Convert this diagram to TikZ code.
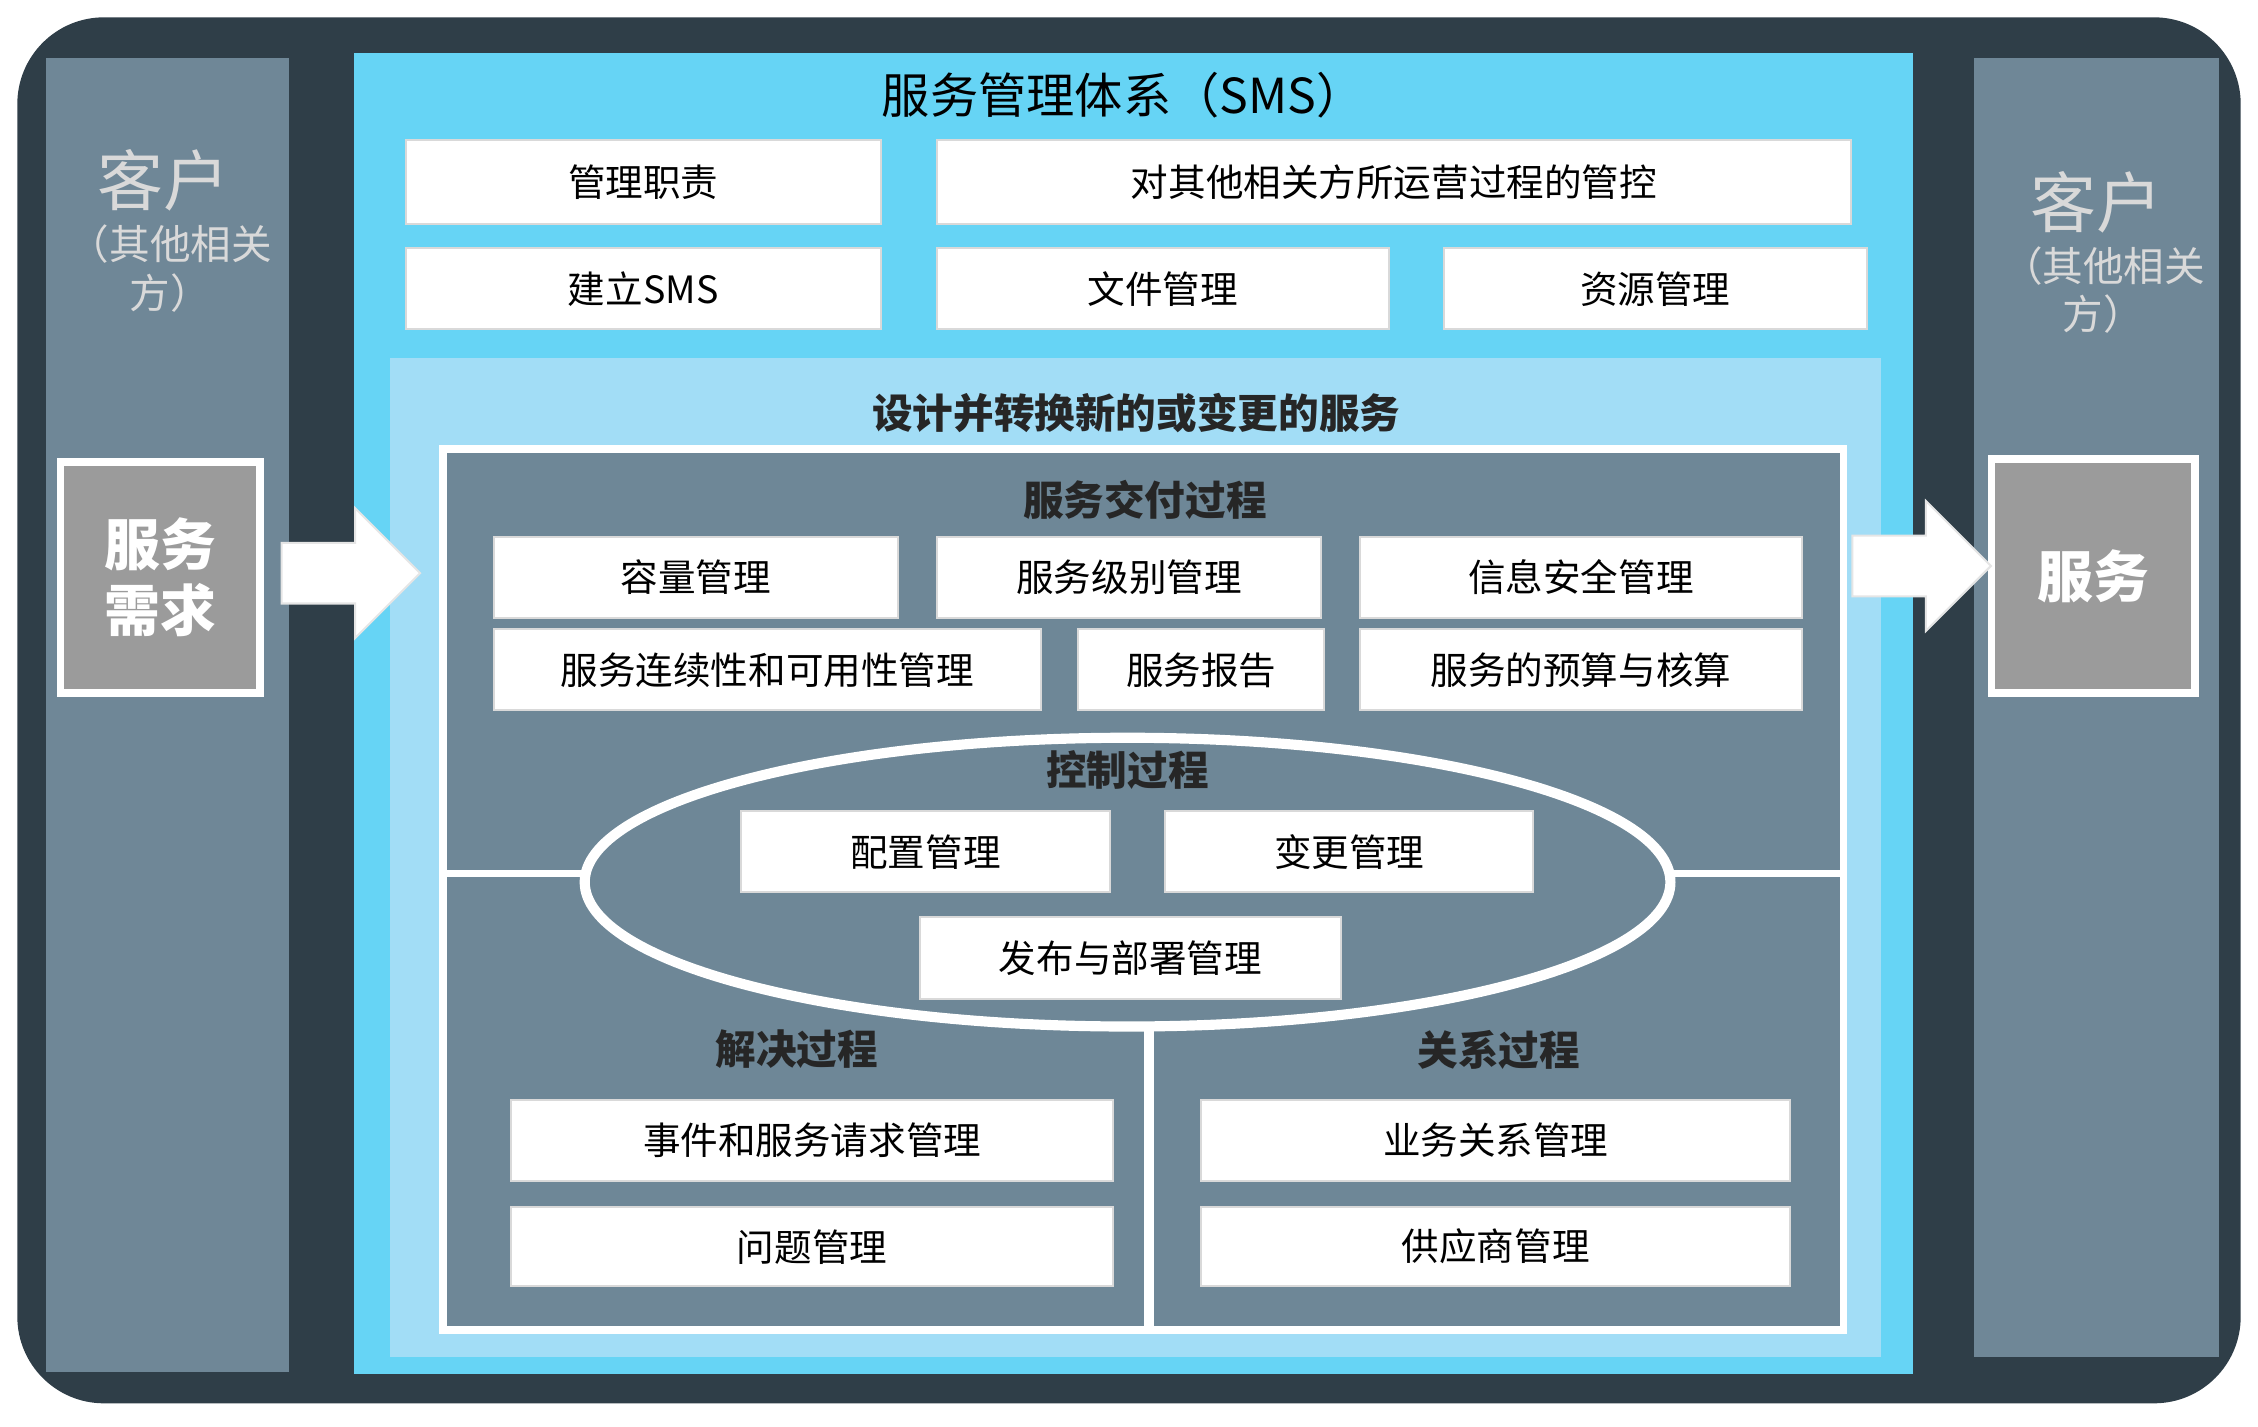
\documentclass[tikz,border=0pt]{standalone}
\usepackage{fontspec}
\setmainfont{Noto Sans CJK SC}
\usetikzlibrary{positioning}
\definecolor{darkbg}{HTML}{2F3E48}
\definecolor{colgray}{HTML}{6F8797}
\definecolor{smscyan}{HTML}{66D4F5}
\definecolor{designblue}{HTML}{A2DDF6}
\definecolor{innergray}{HTML}{6E8797}
\definecolor{reqgray}{HTML}{9B9B9B}

\begin{document}
\begin{tikzpicture}[x=0.01cm,y=-0.01cm,
whitebox/.style={draw=black!15, fill=white, inner sep=0pt, font=\fontsize{7.4}{8}\selectfont},
headtext/.style={font=\fontsize{8}{9}\selectfont\bfseries, text=black!85},
graybox/.style={draw=white, line width=1.5pt, fill=reqgray, text=white, font=\fontsize{11}{13}\selectfont\bfseries, align=center},
custtext/.style={text=black!15, align=center},
blockarrow/.style={fill=white, draw=black!10},
]
\useasboundingbox (0,0) rectangle (1564,988);
%Panels
\fill[darkbg, rounded corners=0.6cm] (12,12) rectangle (1552,972);
\fill[colgray] (32,40) rectangle (200,950);
\fill[colgray] (1367,40) rectangle (1537,940);
\fill[smscyan] (245,37) rectangle (1325,952);
\fill[designblue] (270,248) rectangle (1303,940);
\draw[white, line width=1.5pt, fill=innergray] (307,311) rectangle (1277,921);

%Customers
\node[custtext, font=\fontsize{13}{14}\selectfont] (custL) at (113,125) {客户};
\node[custtext, font=\fontsize{8}{9.5}\selectfont] (custLsub) at (118,186) {（其他相关\\方）};
\node[custtext, font=\fontsize{13}{14}\selectfont] (custR) at (1452,140) {客户};
\node[custtext, font=\fontsize{8}{9.5}\selectfont] (custRsub) at (1457,201) {（其他相关\\方）};

\node[graybox, minimum width=1.38cm, minimum height=1.6cm] (req) at (111,400) {服务\\需求};
\node[graybox, minimum width=1.41cm, minimum height=1.62cm] (svc) at (1450,399) {服务};

%Arrows
\draw[blockarrow] (195,376) -- (246,376) -- (246,352) -- (291,397) -- (246,442) -- (246,418) -- (195,418) -- cycle;
\draw[blockarrow] (1283,371) -- (1334,371) -- (1334,347) -- (1379,392) -- (1334,437) -- (1334,413) -- (1283,413) -- cycle;

%SMS
\node[font=\fontsize{9.5}{11}\selectfont] (smst) at (778,66) {服务管理体系（SMS）};
\node[whitebox, minimum width=3.29cm, minimum height=0.58cm] (b1) at (445.5,126) {管理职责};
\node[whitebox, minimum width=6.33cm, minimum height=0.58cm] (b2) at (965.5,126) {对其他相关方所运营过程的管控};
\node[whitebox, minimum width=3.29cm, minimum height=0.56cm] (b3) at (445.5,200) {建立SMS};
\node[whitebox, minimum width=3.13cm, minimum height=0.56cm] (b4) at (805.5,200) {文件管理};
\node[whitebox, minimum width=2.93cm, minimum height=0.56cm] (b5) at (1146.5,200) {资源管理};

\node[headtext] (dt) at (787,286) {设计并转换新的或变更的服务};

%Delivery
\node[headtext] (sdt) at (793,346) {服务交付过程};
\node[whitebox, minimum width=2.80cm, minimum height=0.56cm] (d1) at (482,400) {容量管理};
\node[whitebox, minimum width=2.66cm, minimum height=0.56cm] (d2) at (782,400) {服务级别管理};
\node[whitebox, minimum width=3.06cm, minimum height=0.56cm] (d3) at (1095,400) {信息安全管理};
\node[whitebox, minimum width=3.79cm, minimum height=0.56cm] (d4) at (531.5,464) {服务连续性和可用性管理};
\node[whitebox, minimum width=1.70cm, minimum height=0.56cm] (d5) at (832,464) {服务报告};
\node[whitebox, minimum width=3.06cm, minimum height=0.56cm] (d6) at (1095,464) {服务的预算与核算};

%Control
\coordinate (hl) at (307,605);
\coordinate (hr) at (1277,605);
\coordinate (vt) at (796,705);
\coordinate (vb) at (796,921);
\draw[white, line width=1.5pt] (hl) -- (hr);
\draw[white, line width=2pt] (vt) -- (vb);
\draw[white, line width=2pt, fill=innergray] (781,611) ellipse [x radius=376, y radius=100];
\node[headtext] (ct) at (781,533) {控制过程};
\node[whitebox, minimum width=2.56cm, minimum height=0.56cm] (c1) at (641,590) {配置管理};
\node[whitebox, minimum width=2.55cm, minimum height=0.56cm] (c2) at (934.5,590) {变更管理};
\node[whitebox, minimum width=2.92cm, minimum height=0.57cm] (c3) at (783,663.5) {发布与部署管理};

%Resolution and relationship
\node[headtext] (rt) at (552,727) {解决过程};
\node[headtext] (lt) at (1038,727) {关系过程};
\node[whitebox, minimum width=4.17cm, minimum height=0.56cm] (r1) at (562.5,790) {事件和服务请求管理};
\node[whitebox, minimum width=4.17cm, minimum height=0.55cm] (r2) at (562.5,863.5) {问题管理};
\node[whitebox, minimum width=4.08cm, minimum height=0.56cm] (l1) at (1036,790) {业务关系管理};
\node[whitebox, minimum width=4.08cm, minimum height=0.55cm] (l2) at (1036,863.5) {供应商管理};
\end{tikzpicture}
\end{document}
